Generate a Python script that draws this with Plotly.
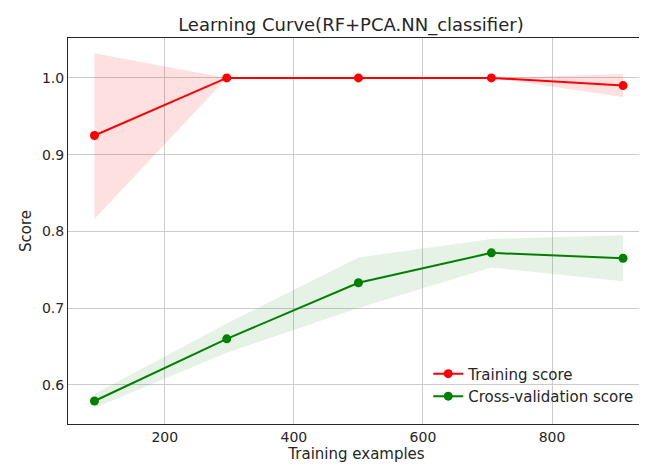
import plotly.graph_objects as go

# training sizes and scores
train_sizes = [91, 296, 500, 706, 910]
train_mean = [0.925, 1.0, 1.0, 1.0, 0.99]
train_upper = [1.032, 1.0, 1.0, 1.0, 1.005]
train_lower = [0.816, 1.0, 1.0, 1.0, 0.975]
cv_mean = [0.579, 0.660, 0.733, 0.772, 0.765]
cv_upper = [0.588, 0.680, 0.766, 0.790, 0.795]
cv_lower = [0.570, 0.642, 0.700, 0.753, 0.735]

fig = go.Figure()

def band(upper, lower, color):
    fig.add_trace(go.Scatter(x=train_sizes, y=upper, mode="lines", line=dict(width=0),
                             showlegend=False, hoverinfo="skip"))
    fig.add_trace(go.Scatter(x=train_sizes, y=lower, mode="lines", line=dict(width=0),
                             fill="tonexty", fillcolor=color, showlegend=False, hoverinfo="skip"))

band(train_upper, train_lower, "rgba(255,0,0,0.12)")
band(cv_upper, cv_lower, "rgba(0,128,0,0.1)")

fig.add_trace(go.Scatter(x=train_sizes, y=train_mean, mode="lines+markers", name="Training score",
                         line=dict(color="red", width=2), marker=dict(size=9, color="red")))
fig.add_trace(go.Scatter(x=train_sizes, y=cv_mean, mode="lines+markers", name="Cross-validation score",
                         line=dict(color="green", width=2), marker=dict(size=9, color="green")))

axis = dict(showgrid=True, gridcolor="#cccccc", showline=True, linecolor="#262626", mirror=True,
            zeroline=False, ticks="", automargin=False, tickfont=dict(size=14, color="#262626"))

fig.update_layout(
    width=647, height=467,
    paper_bgcolor="white", plot_bgcolor="white",
    font=dict(family="DejaVu Sans", color="#262626"),
    title=dict(text="Learning Curve(RF+PCA.NN_classifier)", x=0.53, xanchor="center",
               y=0.965, yanchor="middle", font=dict(size=18)),
    margin=dict(l=60, r=10, t=30, b=51),
    xaxis=dict(axis, range=[50, 944], tickvals=[200, 400, 600, 800],
               title=dict(text="Training examples", font=dict(size=15), standoff=4)),
    yaxis=dict(axis, range=[0.549, 1.052], tickvals=[0.6, 0.7, 0.8, 0.9, 1.0], tickformat=".1f",
               title=dict(text="Score", font=dict(size=15), standoff=6)),
    legend=dict(x=0.99, y=0.03, xanchor="right", yanchor="bottom", bgcolor="rgba(0,0,0,0)",
                traceorder="normal", font=dict(size=15)),
)

fig.write_html("out.html")
